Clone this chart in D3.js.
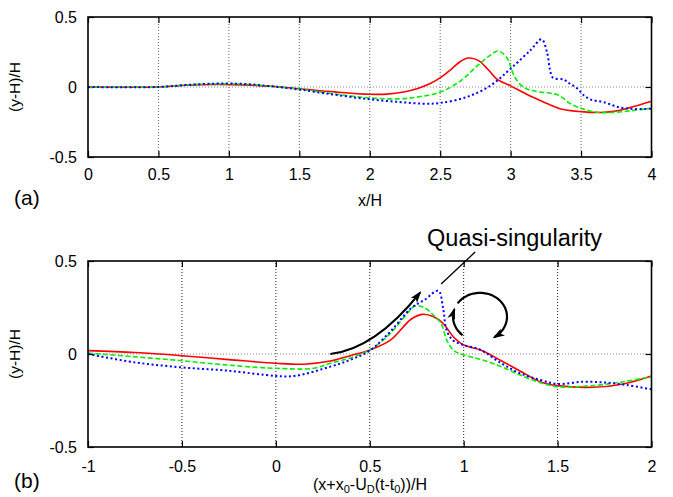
<!DOCTYPE html>
<html>
<head>
<meta charset="utf-8">
<script src="https://cdn.jsdelivr.net/npm/d3@7"></script>
<style>
  html, body { margin: 0; padding: 0; background: #fff; }
  svg { display: block; font-family: "Liberation Sans", Arial, Helvetica, sans-serif; }
</style>
</head>
<body>
<svg id="chart" width="673" height="497"></svg>
<script>
// ---------- DATA ----------
// Panel (a): x/H
const xTicksA = [0, 0.5, 1, 1.5, 2, 2.5, 3, 3.5, 4];
const xTickLabelsA = ["0", "0.5", "1", "1.5", "2", "2.5", "3", "3.5", "4"];
const yTicks = [-0.5, 0, 0.5];
const yTickLabels = ["-0.5", "0", "0.5"];

const redAX = [0, 0.5, 0.7, 0.9, 1.1, 1.3, 1.5, 1.75, 2.0, 2.12, 2.24, 2.34, 2.43, 2.51, 2.58, 2.64, 2.7, 2.77, 2.84, 2.9, 3.0, 3.11, 3.23, 3.35, 3.5, 3.64, 3.76, 3.88, 4.0];
const redAY = [0, 0, 0.012, 0.018, 0.015, 0.005, -0.012, -0.035, -0.052, -0.051, -0.036, -0.01, 0.025, 0.072, 0.128, 0.18, 0.207, 0.19, 0.125, 0.058, 0.008, -0.05, -0.105, -0.155, -0.176, -0.182, -0.17, -0.138, -0.102];

const greenAX = [0, 0.5, 0.7, 0.9, 1.1, 1.3, 1.5, 1.75, 2.0, 2.21, 2.35, 2.5, 2.64, 2.78, 2.86, 2.91, 2.97, 3.03, 3.09, 3.18, 3.34, 3.42, 3.5, 3.6, 3.72, 4.0];
const greenAY = [0, 0, 0.015, 0.022, 0.02, 0.005, -0.015, -0.05, -0.078, -0.085, -0.07, -0.036, 0.04, 0.167, 0.23, 0.257, 0.214, 0.071, 0.0, -0.031, -0.058, -0.117, -0.152, -0.179, -0.182, -0.152];

const blueAX = [0, 0.5, 0.7, 0.9, 1.1, 1.3, 1.5, 1.75, 2.0, 2.21, 2.38, 2.5, 2.69, 2.86, 3.0, 3.14, 3.22, 3.26, 3.28, 3.30, 3.38, 3.42, 3.47, 3.52, 3.57, 3.66, 3.77, 3.88, 4.0];
const blueAY = [0, 0, 0.015, 0.024, 0.022, 0.005, -0.018, -0.055, -0.088, -0.107, -0.119, -0.114, -0.071, 0.012, 0.131, 0.262, 0.34, 0.24, 0.12, 0.067, 0.052, 0.024, -0.008, -0.06, -0.09, -0.108, -0.145, -0.157, -0.155];

// Panel (b): (x+x0-UD(t-t0))/H
const xTicksB = [-1, -0.5, 0, 0.5, 1, 1.5, 2];
const xTickLabelsB = ["-1", "-0.5", "0", "0.5", "1", "1.5", "2"];

const redBX = [-1, -0.75, -0.5, -0.25, 0, 0.15, 0.29, 0.4, 0.5, 0.61, 0.72, 0.78, 0.84, 0.89, 0.945, 1.0, 1.09, 1.2, 1.3, 1.41, 1.5, 1.69, 1.85, 2.0];
const redBY = [0.018, 0.008, -0.009, -0.03, -0.05, -0.055, -0.038, -0.008, 0.022, 0.075, 0.187, 0.213, 0.2, 0.165, 0.093, 0.048, 0.022, -0.036, -0.091, -0.15, -0.17, -0.179, -0.161, -0.118];

const greenBX = [-1, -0.75, -0.5, -0.25, 0, 0.2, 0.29, 0.4, 0.5, 0.61, 0.70, 0.74, 0.79, 0.84, 0.88, 0.91, 0.945, 1.0, 1.09, 1.2, 1.3, 1.41, 1.5, 1.69, 1.85, 2.0];
const greenBY = [0.005, -0.015, -0.036, -0.06, -0.077, -0.077, -0.05, -0.02, 0.022, 0.111, 0.219, 0.258, 0.25, 0.208, 0.163, 0.075, 0.021, -0.005, -0.029, -0.068, -0.113, -0.155, -0.176, -0.17, -0.149, -0.122];

const blueBX = [-1, -0.75, -0.5, -0.25, 0, 0.1, 0.29, 0.4, 0.5, 0.61, 0.72, 0.79, 0.865, 0.89, 0.91, 0.945, 1.0, 1.09, 1.2, 1.3, 1.41, 1.5, 1.64, 1.76, 1.87, 2.0];
const blueBY = [0, -0.045, -0.072, -0.09, -0.118, -0.118, -0.068, -0.03, 0.018, 0.121, 0.246, 0.29, 0.34, 0.25, 0.125, 0.072, 0.048, 0.022, -0.05, -0.104, -0.14, -0.161, -0.149, -0.154, -0.167, -0.19];

const annotationText = "Quasi-singularity";

// ---------- DRAWING ----------
const svg = d3.select("#chart");
svg.append("rect").attr("width", 673).attr("height", 497).attr("fill", "#fff");

const defs = svg.append("defs");
defs.append("marker")
  .attr("id", "arrowhead")
  .attr("viewBox", "0 0 12 8")
  .attr("refX", 10).attr("refY", 4)
  .attr("markerWidth", 12).attr("markerHeight", 8)
  .attr("markerUnits", "userSpaceOnUse")
  .attr("orient", "auto")
  .append("path").attr("d", "M0,0 L12,4 L0,8 L3,4 Z").attr("fill", "#000");

const seriesStyle = {
  red:   { color: "#ff0000", dash: null,    width: 1.6 },
  green: { color: "#00ee00", dash: "5,2.5", width: 1.6 },
  blue:  { color: "#0000ff", dash: "2,2.6", width: 2.0 }
};

function drawPanel(cfg) {
  const g = svg.append("g");
  const x = d3.scaleLinear().domain(cfg.xDomain).range([88, 651.5]);
  const y = d3.scaleLinear().domain([-0.5, 0.5]).range([cfg.bottom, cfg.top]);

  // grid
  g.append("g").selectAll("line").data(cfg.xTicks.slice(1, -1)).join("line")
    .attr("x1", d => x(d)).attr("x2", d => x(d))
    .attr("y1", y(-0.5)).attr("y2", y(0.5))
    .attr("stroke", cfg.gridColor).attr("stroke-width", 1)
    .attr("stroke-dasharray", "1,2");
  g.append("line")
    .attr("x1", x(cfg.xDomain[0])).attr("x2", x(cfg.xDomain[1]))
    .attr("y1", y(0)).attr("y2", y(0))
    .attr("stroke", "#888").attr("stroke-width", 1.2)
    .attr("stroke-dasharray", "1,2");

  // axes
  const fmtX = (d, i) => cfg.xLabels[i];
  const fmtY = (d, i) => yTickLabels[i];
  const ax = g.append("g").attr("transform", `translate(0,${y(-0.5)})`)
    .call(d3.axisBottom(x).tickValues(cfg.xTicks).tickFormat(fmtX).tickSize(-6).tickPadding(cfg.xPad));
  const axTop = g.append("g").attr("transform", `translate(0,${y(0.5)})`)
    .call(d3.axisTop(x).tickValues(cfg.xTicks).tickFormat("").tickSize(-6));
  const ay = g.append("g").attr("transform", `translate(${x(cfg.xDomain[0])},0)`)
    .call(d3.axisLeft(y).tickValues(yTicks).tickFormat(fmtY).tickSize(-6).tickPadding(11));
  const ayR = g.append("g").attr("transform", `translate(${x(cfg.xDomain[1])},0)`)
    .call(d3.axisRight(y).tickValues(yTicks).tickFormat("").tickSize(-6));
  [ax, axTop, ay, ayR].forEach(a => {
    a.select(".domain").remove();
    a.selectAll("line").attr("stroke", "#000").attr("stroke-width", 1.2);
    a.selectAll("text").attr("font-size", 16).attr("fill", "#000")
      .attr("font-family", "'Liberation Sans', Arial, sans-serif");
  });

  // series
  const line = d3.line().x(d => x(d[0])).y(d => y(d[1])).curve(d3.curveCatmullRom.alpha(0.5));
  cfg.series.forEach(s => {
    const st = seriesStyle[s.key];
    const pts = s.xs.map((v, i) => [v, s.ys[i]]);
    g.append("path").datum(pts)
      .attr("d", line)
      .attr("fill", "none")
      .attr("stroke", st.color)
      .attr("stroke-width", st.width)
      .attr("stroke-dasharray", st.dash)
      .attr("stroke-linejoin", "round");
  });

  // frame
  g.append("rect")
    .attr("x", x(cfg.xDomain[0])).attr("y", y(0.5))
    .attr("width", x(cfg.xDomain[1]) - x(cfg.xDomain[0]))
    .attr("height", y(-0.5) - y(0.5))
    .attr("fill", "none").attr("stroke", "#000").attr("stroke-width", 1.6);

  // y-axis label
  g.append("text")
    .attr("transform", `translate(20,${y(0)}) rotate(-90)`)
    .attr("text-anchor", "middle")
    .attr("font-size", 15.5)
    .text("(y-H)/H");

  // panel letter
  g.append("text").attr("x", 14).attr("y", cfg.letterY)
    .attr("font-size", 21).text(cfg.letter);

  return { x, y, g };
}

const pa = drawPanel({
  xDomain: [0, 4], top: 17, bottom: 157, xTicks: xTicksA, xLabels: xTickLabelsA,
  xPad: 12, gridColor: "#666", letter: "(a)", letterY: 205,
  series: [
    { key: "red", xs: redAX, ys: redAY },
    { key: "green", xs: greenAX, ys: greenAY },
    { key: "blue", xs: blueAX, ys: blueAY }
  ]
});
pa.g.append("text").attr("x", 370).attr("y", 206).attr("text-anchor", "middle")
  .attr("font-size", 16).text("x/H");

const pb = drawPanel({
  xDomain: [-1, 2], top: 261, bottom: 447, xTicks: xTicksB, xLabels: xTickLabelsB,
  xPad: 14, gridColor: "#222", letter: "(b)", letterY: 488,
  series: [
    { key: "red", xs: redBX, ys: redBY },
    { key: "green", xs: greenBX, ys: greenBY },
    { key: "blue", xs: blueBX, ys: blueBY }
  ]
});

// panel (b) x-axis label with subscripts
const xl = pb.g.append("text").attr("x", 370).attr("y", 490).attr("text-anchor", "middle").attr("font-size", 16);
xl.append("tspan").text("(x+x");
xl.append("tspan").attr("font-size", 11).attr("dy", 3).text("0");
xl.append("tspan").attr("dy", -3).text("-U");
xl.append("tspan").attr("font-size", 11).attr("dy", 3).text("D");
xl.append("tspan").attr("dy", -3).text("(t-t");
xl.append("tspan").attr("font-size", 11).attr("dy", 3).text("0");
xl.append("tspan").attr("dy", -3).text("))/H");

// ---------- ANNOTATIONS (panel b, data coordinates) ----------
const xb = pb.x, yb = pb.y;
// curved arrow along the rising front
const p = d3.path();
p.moveTo(xb(0.29), yb(0.0));
p.quadraticCurveTo(xb(0.528), yb(0.027), xb(0.768), yb(0.33));
pb.g.append("path").attr("d", p.toString())
  .attr("fill", "none").attr("stroke", "#000").attr("stroke-width", 2.2)
  .attr("marker-end", "url(#arrowhead)");

// circular (overturning) arrow
const cx = xb(1.087), cy = yb(0.2), rx = 27, ry = 24;
const arcLine = d3.line().curve(d3.curveBasis);
function arcPts(a0, a1) {
  return d3.range(a0, a1 + 0.01, 4).map(a => {
    const t = a * Math.PI / 180;
    return [cx + rx * Math.cos(t), cy + ry * Math.sin(t)];
  });
}
pb.g.append("path").attr("d", arcLine(arcPts(130, 200)))
  .attr("fill", "none").attr("stroke", "#000").attr("stroke-width", 2.2)
  .attr("marker-end", "url(#arrowhead)");
pb.g.append("path").attr("d", arcLine(arcPts(214, 418)))
  .attr("fill", "none").attr("stroke", "#000").attr("stroke-width", 2.2)
  .attr("marker-end", "url(#arrowhead)");

// quasi-singularity label and pointer
pb.g.append("line")
  .attr("x1", xb(1.061)).attr("y1", yb(0.548))
  .attr("x2", xb(0.880)).attr("y2", yb(0.376))
  .attr("stroke", "#000").attr("stroke-width", 1.3);
pb.g.append("text")
  .attr("x", xb(0.805)).attr("y", yb(0.58))
  .attr("font-size", 23.5).text(annotationText);
</script>
</body>
</html>
